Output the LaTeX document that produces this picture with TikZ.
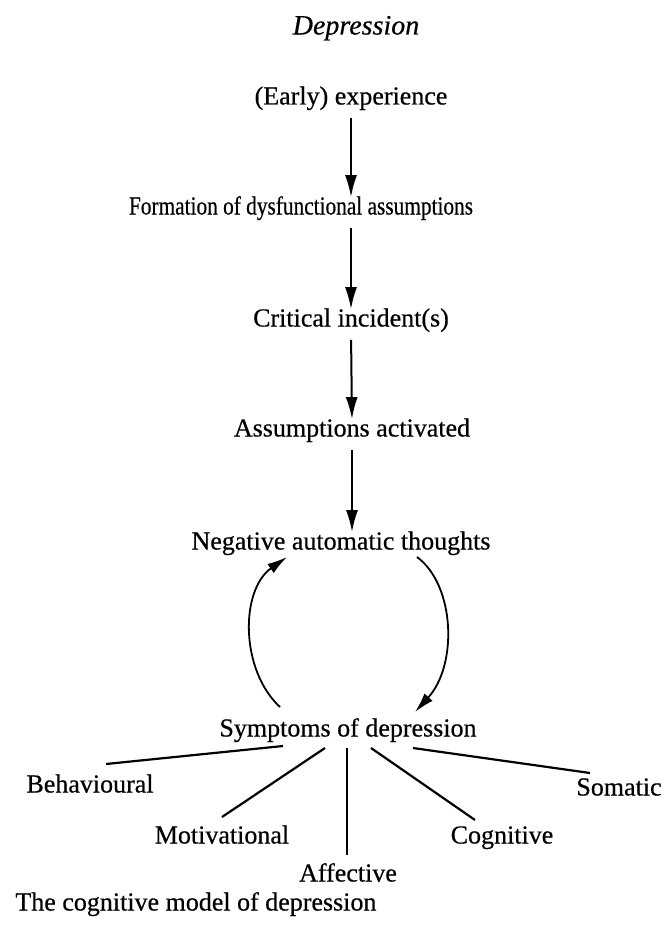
\documentclass[tikz,border=0pt]{standalone}
\usepackage{fontspec}
\setmainfont[FakeBold=0.5]{Liberation Serif}
\newfontfamily\narrowserif[FakeStretch=0.82, FakeBold=0.5]{Liberation Serif}
\usetikzlibrary{arrows.meta}

\begin{document}
\begin{tikzpicture}[x=0.5pt, y=-0.5pt,
	every node/.style={inner sep=0pt, text height=0.7em, text depth=0.25em,
		font=\fontsize{13}{15}\selectfont},
	stage/.style={},
	arr/.style={line width=1pt, -{Latex[length=11pt, width=6pt]},
		shorten <=4pt, shorten >=1.5pt},
	loop/.style={line width=0.9pt, -{Latex[length=10pt, width=5.5pt]}},
	branch/.style={line width=1.1pt}]

	\useasboundingbox (0,0) rectangle (664,925);

	\node (title) at (356,30) {\fontsize{14}{16}\selectfont\itshape Depression};

	\node[stage] (early)  at (351,100) {(Early) experience};
	\node[stage] (form)   at (301,210) {\narrowserif Formation of dysfunctional assumptions};
	\node[stage] (crit)   at (351,322) {Critical incident(s)};
	\node[stage] (assump) at (352,432) {Assumptions activated};
	\node[stage] (neg)    at (341,545) {Negative automatic thoughts};
	\node[stage] (sym)    at (348,732) {Symptoms of depression};

	\draw[arr] (early.south)  -- (early.south |- form.north);
	\draw[arr] (early.south |- form.south) -- (crit.north);
	\draw[arr] (crit.south)   -- (assump.north);
	\draw[arr] (assump.south) -- (assump.south |- neg.north);

	\draw[loop] ([shift={(-68,-25)}]sym.center) .. controls +(-40,-37) and +(-47,33)
		.. ([shift={(-54,12)}]neg.center);
	\draw[loop] ([shift={(76,12)}]neg.center) .. controls +(38,28) and +(43,-47)
		.. ([shift={(67,-20)}]sym.center);

	\node (beh) at (90,788)  {Behavioural};
	\node (mot) at (222,839) {Motivational};
	\node (aff) at (348,877) {Affective};
	\node (cog) at (502,839) {Cognitive};
	\node (som) at (619,791) {Somatic};

	\draw[branch] ([shift={(-65,14)}]sym.center) -- ([shift={(16,-24)}]beh.center);
	\draw[branch] ([shift={(-23,16)}]sym.center) -- ([shift={(0,-22)}]mot.center);
	\draw[branch] ([shift={(-1,16)}]sym.center)  -- ([shift={(-1,-22)}]aff.center);
	\draw[branch] ([shift={(23,16)}]sym.center)  -- ([shift={(-27,-19)}]cog.center);
	\draw[branch] ([shift={(65,16)}]sym.center)  -- ([shift={(-29,-18)}]som.center);

	\node[anchor=west] (caption) at (15,906) {The cognitive model of depression};

\end{tikzpicture}
\end{document}
